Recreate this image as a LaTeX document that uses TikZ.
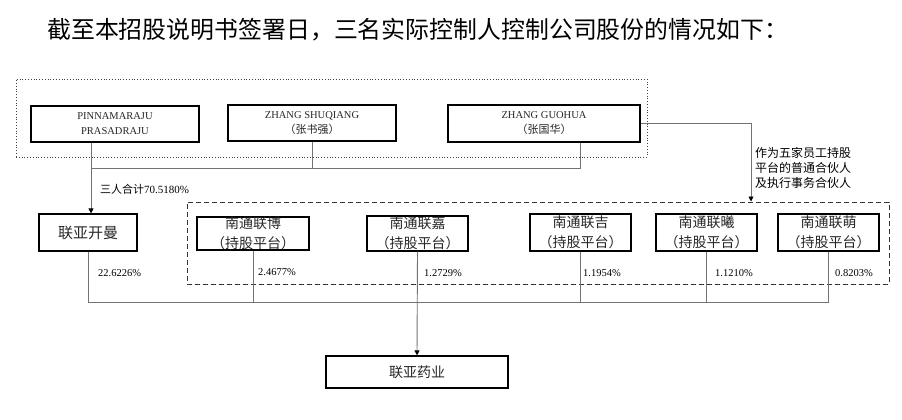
\documentclass[tikz,border=0pt]{standalone}
\usepackage{fontspec}
\setmainfont{Liberation Serif}
\newfontfamily\cjk{Noto Sans CJK SC}
\usetikzlibrary{arrows.meta}
\begin{document}
\begin{tikzpicture}[x=1pt,y=-1pt,
  box/.style={draw=black, line width=1.2pt, inner sep=0pt, align=center, text=black!85},
  latbox/.style={box, font=\fontsize{10.5}{15}\selectfont},
  cjkbox/.style={box, font=\cjk\fontsize{14}{20}\selectfont},
  conn/.style={draw=black!55, line width=0.9pt},
  arr/.style={conn, -{Triangle[width=5pt,length=5pt,color=black]}},
  pct/.style={anchor=west, inner sep=0pt, font=\fontsize{10.5}{12}\selectfont},
]
\useasboundingbox (0,0) rectangle (902,420);

\node[anchor=west, inner sep=0pt, font=\cjk\fontsize{23.9}{26}\selectfont] (title) at (47,30)
  {截至本招股说明书签署日，三名实际控制人控制公司股份的情况如下：};

% group frames
\node[draw=black!75, dotted, line width=0.8pt, minimum width=631, minimum height=78, inner sep=0pt] (ctl) at (331.5,118) {};
\node[draw=black!80, dash pattern=on 5pt off 3pt, line width=1pt, minimum width=702, minimum height=82, inner sep=0pt] (plat) at (538,243) {};

% controllers
\node[latbox, minimum width=168, minimum height=36] (pin) at (115,124) {PINNAMARAJU\\PRASADRAJU};
\node[latbox, minimum width=168, minimum height=36] (zsq) at (312,123) {ZHANG SHUQIANG\\{\cjk\fontsize{11}{15}\selectfont （张书强）}};
\node[latbox, minimum width=192, minimum height=37] (zgh) at (544,123.5) {ZHANG GUOHUA\\{\cjk\fontsize{11}{15}\selectfont （张国华）}};

% holders
\node[box, font=\cjk\fontsize{15}{18}\selectfont, minimum width=98, minimum height=37] (kaiman) at (88,232.5) {联亚开曼};
\node[cjkbox, minimum width=112, minimum height=33] (lb) at (253,233.5) {南通联博\\（持股平台）};
\node[cjkbox, minimum width=101, minimum height=35] (lj) at (417.5,233.5) {南通联嘉\\（持股平台）};
\node[cjkbox, minimum width=101, minimum height=37] (lji) at (580.5,232.5) {南通联吉\\（持股平台）};
\node[cjkbox, minimum width=101, minimum height=37] (lx) at (706.5,232.5) {南通联曦\\（持股平台）};
\node[cjkbox, minimum width=101, minimum height=37] (lm) at (828.5,232.5) {南通联萌\\（持股平台）};

\node[box, font=\cjk\fontsize{14}{18}\selectfont, minimum width=182, minimum height=32] (ya) at (417,372) {联亚药业};

% upper connectors
\coordinate (t1) at (91,168);
\coordinate (t2) at (580,168);
\draw[conn] (zsq.south) -- (zsq.south |- t1);
\draw[conn] (zgh.south -| t2) -- (t2) -- (t1);
\draw[arr] (pin.south -| t1) -- (kaiman.north -| t1);
\coordinate (r1) at (751,123.5);
\draw[arr] (zgh.east) -- (r1) -- (r1 |- plat.north);

% lower connectors
\coordinate (bl) at (88,302);
\coordinate (br) at (828.5,302);
\draw[conn] (kaiman.south) -- (bl) -- (br) -- (lm.south);
\draw[conn] (lb.south) -- (lb.south |- bl);
\draw[conn] (lji.south) -- (lji.south |- bl);
\draw[conn] (lx.south) -- (lx.south |- bl);
\draw[arr] (lj.south) -- (ya.north);

% labels
\node[anchor=west, inner sep=0pt, font=\fontsize{11}{13}\selectfont] (sum) at (100,189) {{\cjk 三人合计}70.5180\%};
\node[anchor=west, inner sep=0pt, align=left, font=\cjk\fontsize{12}{15}\selectfont] (gp) at (755,168)
  {作为五家员工持股\\平台的普通合伙人\\及执行事务合伙人};
\node[pct] (p0) at (98,273) {22.6226\%};
\node[pct] (p1) at (258,272) {2.4677\%};
\node[pct] (p2) at (424,273) {1.2729\%};
\node[pct] (p3) at (583,273) {1.1954\%};
\node[pct] (p4) at (715,273) {1.1210\%};
\node[pct] (p5) at (835,273) {0.8203\%};
\end{tikzpicture}
\end{document}
